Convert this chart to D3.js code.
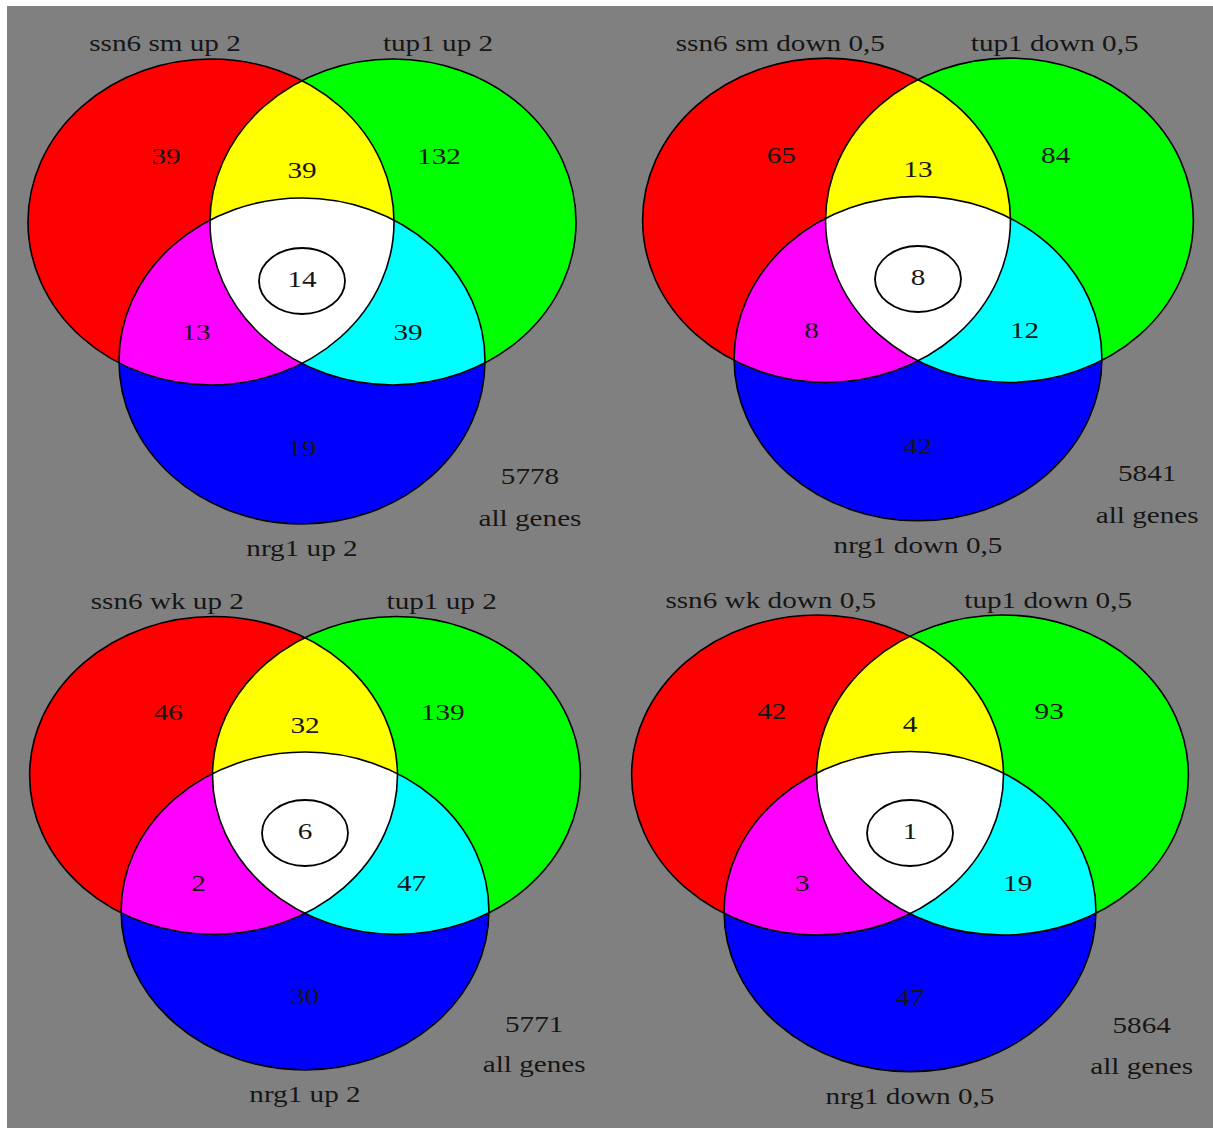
<!DOCTYPE html>
<html>
<head>
<meta charset="utf-8">
<script src="https://cdn.jsdelivr.net/npm/d3@7"></script>
<style>
  html, body { margin: 0; padding: 0; background: #fff; }
  svg { display: block; }
  text { font-family: "Liberation Serif", "DejaVu Serif", serif; fill: #161616; }
</style>
</head>
<body>
<svg id="chart" width="1213" height="1128"></svg>
<script>
// Set names for each of the four comparisons (circle A, circle B, circle C)
const setA = ["ssn6 sm up 2", "ssn6 sm down 0,5", "ssn6 wk up 2", "ssn6 wk down 0,5"];
const setB = ["tup1 up 2", "tup1 down 0,5", "tup1 up 2", "tup1 down 0,5"];
const setC = ["nrg1 up 2", "nrg1 down 0,5", "nrg1 up 2", "nrg1 down 0,5"];

// Gene counts per Venn region
const onlyA = [39, 65, 46, 42];
const onlyB = [132, 84, 139, 93];
const onlyC = [19, 42, 30, 47];
const AB    = [39, 13, 32, 4];
const AC    = [13, 8, 2, 3];
const BC    = [39, 12, 47, 19];
const ABC   = [14, 8, 6, 1];
const allGenes = [5778, 5841, 5771, 5864];

const svg = d3.select("#chart");
const W = 1213, H = 1128;

// grey canvas
svg.append("rect").attr("x", 7).attr("y", 6).attr("width", W - 7).attr("height", H - 6)
  .attr("fill", "#808080");

// panel centres (triple intersection) and horizontal / vertical stretch per panel
const panelX = [302, 918, 305, 910];
const panelY = [280, 278, 832, 832];
const panelSx = [1, 1.005, 1.005, 1.016];
const panelSy = [1, 0.995, 0.975, 0.982];

const fill = d3.scaleOrdinal()
  .domain(["A", "B", "C", "AB", "AC", "BC", "ABC"])
  .range(["#ff0000", "#00ff00", "#0000ff", "#ffff00", "#ff00ff", "#00ffff", "#ffffff"]);

const defs = svg.append("defs");

d3.range(4).forEach(i => {
  const cx = panelX[i], cy = panelY[i];
  const sx = panelSx[i], sy = panelSy[i];
  // local panel coordinates -> page
  const px = d3.scaleLinear().domain([0, 1]).range([cx, cx + sx]);
  const py = d3.scaleLinear().domain([0, 1]).range([cy, cy + sy]);
  const rx = 183 * sx, ry = 163 * sy;
  const circles = {
    A: { x: px(-91), y: py(-58) },
    B: { x: px(91),  y: py(-58) },
    C: { x: px(0),   y: py(81) }
  };
  const g = svg.append("g");

  // clip paths for overlaps
  ["A", "B"].forEach(k => {
    defs.append("clipPath").attr("id", `clip${k}${i}`)
      .append("ellipse").attr("cx", circles[k].x).attr("cy", circles[k].y)
      .attr("rx", rx).attr("ry", ry);
  });
  defs.append("clipPath").attr("id", `clipAB${i}`)
    .attr("clip-path", `url(#clipA${i})`)
    .append("ellipse").attr("cx", circles.B.x).attr("cy", circles.B.y)
    .attr("rx", rx).attr("ry", ry);

  const ell = (k, key, clip) => {
    const e = g.append("ellipse")
      .attr("cx", circles[k].x).attr("cy", circles[k].y)
      .attr("rx", rx).attr("ry", ry)
      .attr("fill", fill(key));
    if (clip) e.attr("clip-path", `url(#${clip}${i})`);
  };
  ell("A", "A");
  ell("B", "B");
  ell("C", "C");
  ell("B", "AB", "clipA");
  ell("C", "AC", "clipA");
  ell("C", "BC", "clipB");
  ell("C", "ABC", "clipAB");

  // outlines
  ["A", "B", "C"].forEach(k => {
    g.append("ellipse")
      .attr("cx", circles[k].x).attr("cy", circles[k].y)
      .attr("rx", rx).attr("ry", ry)
      .attr("fill", "none").attr("stroke", "#000").attr("stroke-width", 1.6);
  });

  // ring around the shared core count
  g.append("ellipse").attr("cx", px(0)).attr("cy", py(1)).attr("rx", 43).attr("ry", 33)
    .attr("fill", "none").attr("stroke", "#000").attr("stroke-width", 1.8);

  // wide serif lettering
  const label = (x, y, t) => g.append("text")
    .attr("transform", `translate(${px(x)},${py(y)}) scale(1.27,1)`)
    .attr("text-anchor", "middle")
    .attr("dominant-baseline", "central")
    .attr("font-size", 23).text(t);

  label(-137, -236, setA[i]);
  label(136, -236, setB[i]);
  label(0, 269, setC[i]);

  label(-136, -123, onlyA[i]);
  label(0, -109, AB[i]);
  label(137, -123, onlyB[i]);
  label(0, 0, ABC[i]);
  label(-106, 53, AC[i]);
  label(106, 53, BC[i]);
  label(0, 169, onlyC[i]);
  label(228, 197, allGenes[i]);
  label(228, 239, "all genes");
});
</script>
</body>
</html>
